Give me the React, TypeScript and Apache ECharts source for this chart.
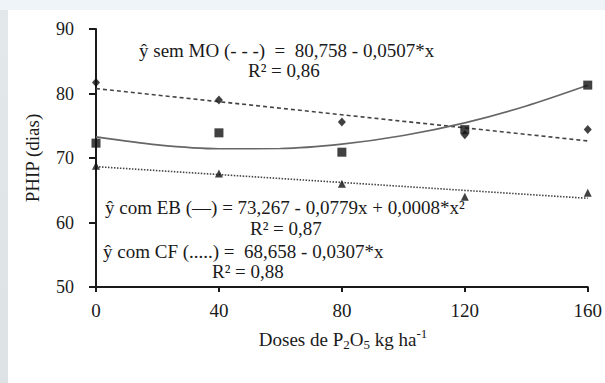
import React, { useEffect, useRef } from "react";
import * as echarts from "echarts";

const doses = [0, 40, 80, 120, 160];
const semMO = [81.7, 79.0, 75.6, 73.6, 74.4];
const comEB = [72.3, 73.9, 70.9, 74.4, 81.3];
const comCF = [68.8, 67.6, 66.0, 64.0, 64.6];

const fitX = [0, 20, 40, 60, 80, 100, 120, 140, 160];
const fitEB = [73.27, 72.03, 71.43, 71.47, 72.15, 73.49, 75.45, 78.07, 81.28];
const fitMOx = [0, 160];
const fitMO = [80.76, 72.65];
const fitCFx = [0, 160];
const fitCF = [68.66, 63.75];

const xTicks = [0, 40, 80, 120, 160];
const yTicks = [50, 60, 70, 80, 90];

const FONT = "Liberation Serif";

const pairs = (xs: number[], ys: number[]) => xs.map((x, i) => [x, ys[i]]);

export default function App() {
  const ref = useRef<HTMLDivElement>(null);
  useEffect(() => {
    document.body.style.margin = "0";
    const chart = echarts.init(ref.current!, undefined, { renderer: "svg" });
    const txt = (text: string, x: number, y: number) => ({
      type: "text",
      x,
      y,
      style: { text, fontFamily: FONT, fontSize: 19, lineHeight: 19, fill: "#1a1a1a", textVerticalAlign: "middle" },
    });
    chart.setOption({
      animation: false,
      backgroundColor: "transparent",
      grid: { left: 96, right: 16, top: 29, bottom: 96 },
      xAxis: {
        type: "value",
        min: xTicks[0],
        max: xTicks[xTicks.length - 1],
        interval: 40,
        axisLine: { show: true, onZero: false, lineStyle: { color: "#1a1a1a", width: 2 } },
        axisTick: { show: true, length: 5, lineStyle: { color: "#1a1a1a", width: 2 } },
        axisLabel: { margin: 14, fontFamily: FONT, fontSize: 19, color: "#1a1a1a" },
        splitLine: { show: false },
      },
      yAxis: {
        type: "value",
        min: yTicks[0],
        max: yTicks[yTicks.length - 1],
        interval: 10,
        name: "PHIP (dias)",
        nameLocation: "middle",
        nameGap: 54,
        nameRotate: 90,
        nameTextStyle: { fontFamily: FONT, fontSize: 19, color: "#1a1a1a" },
        axisLine: { show: true, onZero: false, lineStyle: { color: "#1a1a1a", width: 2 } },
        axisTick: { show: true, length: 7, lineStyle: { color: "#1a1a1a", width: 2 } },
        axisLabel: { margin: 22, fontFamily: FONT, fontSize: 18, color: "#1a1a1a" },
        splitLine: { show: false },
      },
      graphic: [
        txt("ŷ sem MO (- - -)  =  80,758 - 0,0507*x", 139, 50),
        txt("R² = 0,86", 248, 70),
        txt("ŷ com EB (—) = 73,267 - 0,0779x + 0,0008*x²", 105, 207),
        txt("R² = 0,87", 250, 228),
        txt("ŷ com CF (.....) =  68,658 - 0,0307*x", 103, 251),
        txt("R² = 0,88", 212, 271),
        {
          type: "text",
          x: 343,
          y: 339,
          style: {
            text: "{a|Doses de P}{s|2}{a|O}{s|5}{a| kg ha}{p|-1}",
            fontFamily: FONT,
            fontSize: 19,
            fill: "#1a1a1a",
            textAlign: "center",
            textVerticalAlign: "middle",
            rich: {
              a: { fontFamily: FONT, fontSize: 19, lineHeight: 24, verticalAlign: "middle", fill: "#1a1a1a" },
              s: { fontFamily: FONT, fontSize: 13, lineHeight: 24, verticalAlign: "bottom", padding: [9, 0, 0, 0], fill: "#1a1a1a" },
              p: { fontFamily: FONT, fontSize: 13, lineHeight: 24, verticalAlign: "top", padding: [0, 0, 9, 0], fill: "#1a1a1a" },
            },
          },
        },
      ],
      series: [
        {
          type: "line",
          data: pairs(fitMOx, fitMO),
          symbol: "none",
          lineStyle: { color: "#444", width: 1.6, type: [4, 3] },
          z: 1,
        },
        {
          type: "line",
          data: pairs(fitCFx, fitCF),
          symbol: "none",
          lineStyle: { color: "#444", width: 1.6, type: [1.5, 1.5] },
          z: 1,
        },
        {
          type: "line",
          data: pairs(fitX, fitEB),
          symbol: "none",
          smooth: 0.3,
          lineStyle: { color: "#666", width: 1.6 },
          z: 1,
        },
        {
          type: "scatter",
          data: pairs(doses, semMO),
          symbol: "diamond",
          symbolSize: [8, 9],
          itemStyle: { color: "#111" },
          z: 3,
        },
        {
          type: "scatter",
          data: pairs(doses, comEB),
          symbol: "rect",
          symbolSize: 9,
          itemStyle: { color: "#111" },
          z: 3,
        },
        {
          type: "scatter",
          data: pairs(doses, comCF),
          symbol: "triangle",
          symbolSize: 8,
          itemStyle: { color: "#111" },
          z: 3,
        },
      ],
    });
    return () => chart.dispose();
  }, []);
  return (
    <div style={{ position: "relative", width: 605, height: 383, background: "#eef4f7", overflow: "hidden" }}>
      <div style={{ position: "absolute", left: 0, top: 10, width: 8, height: 373, background: "linear-gradient(#e3e8eb, #dde2e4)" }} />
      <div style={{ position: "absolute", left: 8, top: 10, right: 0, bottom: 0, background: "#ffffff" }} />
      <div ref={ref} style={{ position: "absolute", left: 0, top: 0, width: 605, height: 383 }} />
    </div>
  );
}
